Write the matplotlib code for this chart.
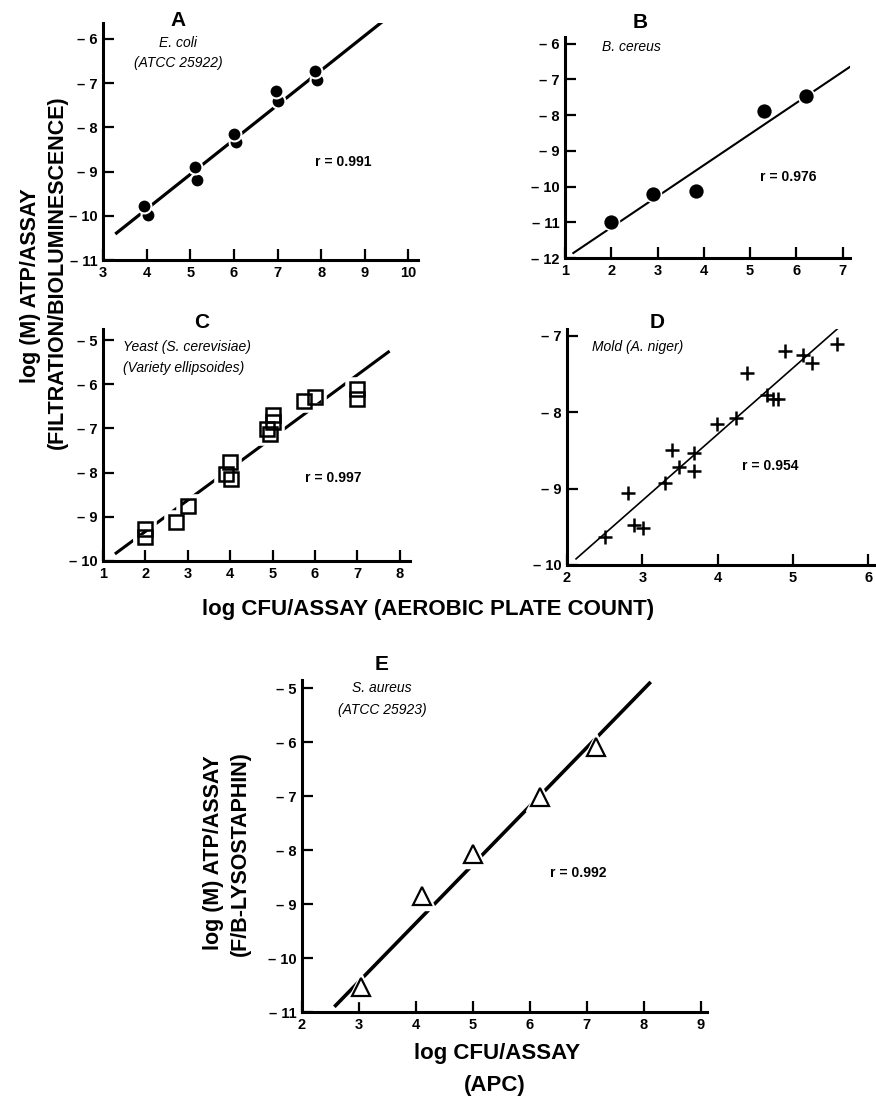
import matplotlib
matplotlib.use('Agg')
import matplotlib.pyplot as plt

plt.rcParams['font.family'] = ['Liberation Sans Narrow', 'Liberation Sans', 'DejaVu Sans']

# panel A  E. coli (pairs of replicate points)
a_x_low = [4.04, 5.15, 6.05, 7.0, 7.9]
a_y_low = [-9.98, -9.18, -8.33, -7.4, -6.93]
a_x_up = [3.93, 5.1, 6.0, 6.97, 7.85]
a_y_up = [-9.79, -8.9, -8.14, -7.18, -6.72]
a_fit_x = [3.31, 9.39]
a_fit_y = [-10.39, -5.62]

# panel B  B. cereus
b_x = [2.0, 2.91, 3.83, 5.3, 6.2]
b_y = [-11.0, -10.2, -10.12, -7.89, -7.45]
b_fit_x = [1.18, 7.2]
b_fit_y = [-11.86, -6.61]

# panel C  yeast
c_x = [2.0, 2.0, 2.73, 3.0, 3.9, 4.0, 4.02, 4.87, 4.93, 5.02, 5.02, 5.75, 6.0, 7.0, 7.0]
c_y = [-9.46, -9.27, -9.11, -8.75, -8.04, -7.76, -8.15, -7.02, -7.13, -6.86, -6.7,
       -6.39, -6.29, -6.33, -6.1]
c_fit_x = [1.31, 7.73]
c_fit_y = [-9.82, -5.27]

# panel D  mold
d_x = [2.5, 2.81, 2.89, 3.01, 3.3, 3.39, 3.49, 3.68, 3.68, 3.99, 4.25, 4.39,
       4.66, 4.73, 4.8, 4.89, 5.13, 5.26, 5.59]
d_y = [-9.63, -9.06, -9.47, -9.52, -8.93, -8.49, -8.72, -8.54, -8.77, -8.16, -8.07,
       -7.48, -7.77, -7.82, -7.83, -7.2, -7.25, -7.35, -7.1]
d_fit_x = [2.12, 5.6]
d_fit_y = [-9.92, -6.9]

# panel E  S. aureus
e_x = [3.04, 4.1, 5.0, 6.17, 7.16]
e_y = [-10.53, -8.85, -8.08, -7.01, -6.09]
e_fit_x = [2.59, 8.1]
e_fit_y = [-10.88, -4.91]

W, H = 876, 1097
fig = plt.figure(figsize=(W / 100, H / 100), dpi=100)


def px_axes(left, right, bottom, top):
    return fig.add_axes([left / W, 1 - bottom / H, (right - left) / W, (bottom - top) / H])


def ftext(x, y, s, **kw):
    fig.text(x / W, 1 - y / H, s, ha='center', va='center', **kw)


def style(ax, xlim, ylim, xticks, yticks):
    ax.set_xlim(*xlim)
    ax.set_ylim(*ylim)
    for s in ['top', 'right']:
        ax.spines[s].set_visible(False)
    for s in ['left', 'bottom']:
        ax.spines[s].set_linewidth(2.2)
    ax.set_xticks(xticks)
    ax.set_xticklabels([str(t) for t in xticks])
    ax.set_yticks(yticks)
    ax.set_yticklabels(['\u2013 %d' % abs(t) for t in yticks])
    ax.tick_params(direction='in', length=8, width=1.6, labelsize=10.5, pad=4)
    for lab in ax.get_xticklabels() + ax.get_yticklabels():
        lab.set_fontweight('bold')
    ax.patch.set_alpha(0)


# A
ax = px_axes(103, 418, 260, 23)
style(ax, (3, 10.22), (-11, -5.64), range(3, 11), range(-11, -5))
ax.plot(a_fit_x, a_fit_y, color='black', lw=2.3, zorder=2)
ax.plot(a_x_low, a_y_low, 'o', color='black', ms=10, mec='white', mew=1.5, zorder=3)
ax.plot(a_x_up, a_y_up, 'o', color='black', ms=10, mec='white', mew=1.5, zorder=4)
ftext(178, 20, 'A', fontsize=15, fontweight='bold')
ftext(178, 43, 'E. coli', fontsize=10, style='italic')
ftext(178, 63, '(ATCC 25922)', fontsize=10, style='italic')
ftext(343, 162, 'r = 0.991', fontsize=10, fontweight='bold')

# B
ax = px_axes(565, 850, 258, 37)
style(ax, (1, 7.16), (-12, -5.81), range(1, 8), range(-12, -5))
ax.plot(b_fit_x, b_fit_y, color='black', lw=1.5, zorder=2)
ax.plot(b_x, b_y, 'o', color='black', ms=11.5, mec='white', mew=1.2, zorder=3)
ftext(640, 22, 'B', fontsize=15, fontweight='bold')
fig.text(602 / W, 1 - 47 / H, 'B. cereus', ha='left', va='center', fontsize=10, style='italic')
ftext(788, 177, 'r = 0.976', fontsize=10, fontweight='bold')

# C
ax = px_axes(103, 410, 561, 329)
style(ax, (1, 8.24), (-10, -4.75), range(1, 9), range(-10, -4))
ax.plot(c_fit_x, c_fit_y, color='black', lw=2.2, zorder=2)
ax.plot(c_x, c_y, 's', mfc='none', mec='white', ms=13, mew=4, zorder=3)
ax.plot(c_x, c_y, 's', mfc='none', mec='black', ms=10, mew=1.8, zorder=4)
ftext(202, 323, 'C', fontsize=15, fontweight='bold')
fig.text(123 / W, 1 - 347 / H, 'Yeast (S. cerevisiae)', ha='left', va='center', fontsize=10, style='italic')
fig.text(123 / W, 1 - 368 / H, '(Variety ellipsoides)', ha='left', va='center', fontsize=10, style='italic')
ftext(333, 478, 'r = 0.997', fontsize=10, fontweight='bold')

# D
ax = px_axes(567, 875, 565, 329)
style(ax, (2, 6.09), (-10, -6.91), range(2, 7), range(-10, -6))
ax.plot(d_fit_x, d_fit_y, color='black', lw=1.2, zorder=2)
ax.plot(d_x, d_y, '+', color='black', ms=10, mew=1.8, zorder=3)
ftext(657, 323, 'D', fontsize=15, fontweight='bold')
fig.text(592 / W, 1 - 347 / H, 'Mold (A. niger)', ha='left', va='center', fontsize=10, style='italic')
ftext(770, 466, 'r = 0.954', fontsize=10, fontweight='bold')

# E
ax = px_axes(302, 707, 1012, 680)
style(ax, (2, 9.11), (-11, -4.85), range(2, 10), range(-11, -4))
ax.plot(e_fit_x, e_fit_y, color='black', lw=2.6, zorder=2)
ax.plot(e_x, e_y, '^', color='white', ms=20, zorder=3)
ax.plot(e_x, e_y, '^', mfc='white', mec='black', ms=13, mew=1.6, zorder=4)
ftext(382, 665, 'E', fontsize=15, fontweight='bold')
ftext(382, 688, 'S. aureus', fontsize=10, style='italic')
ftext(382, 710, '(ATCC 25923)', fontsize=10, style='italic')
ftext(578, 873, 'r = 0.992', fontsize=10, fontweight='bold')

# shared labels
ftext(31, 286, 'log (M) ATP/ASSAY', fontsize=15.5, fontweight='bold', rotation=90)
ftext(57, 272, '(FILTRATION/BIOLUMINESCENCE)', fontsize=15.5, fontweight='bold', rotation=90)
ftext(428, 610, 'log CFU/ASSAY (AEROBIC PLATE COUNT)', fontsize=16, fontweight='bold')
ftext(213, 853, 'log (M) ATP/ASSAY', fontsize=15.5, fontweight='bold', rotation=90)
ftext(240, 854, '(F/B-LYSOSTAPHIN)', fontsize=15.5, fontweight='bold', rotation=90)
ftext(497, 1053, 'log CFU/ASSAY', fontsize=16, fontweight='bold')
ftext(495, 1085, '(APC)', fontsize=16, fontweight='bold')

fig.savefig('out.png', dpi=100)
